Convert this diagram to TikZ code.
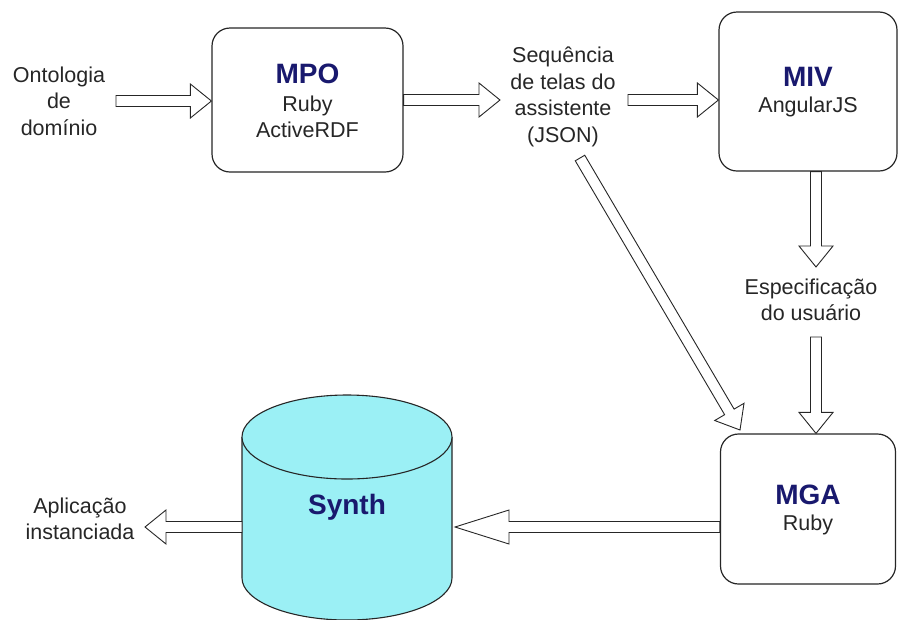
\documentclass[tikz,border=0pt]{standalone}
\usepackage{fontspec}
\setmainfont{Liberation Sans}
\usetikzlibrary{calc}
\definecolor{navy}{RGB}{25,25,110}
\definecolor{cyl}{RGB}{155,240,245}
\newcommand\hd{\fontsize{28}{31}\selectfont\bfseries\color{navy}}
\newcommand\blockarrow[3][21pt]{%
  \coordinate (ba-s) at (#2);
  \coordinate (ba-e) at (#3);
  \coordinate (ba-h) at ($(ba-e)!#1!(ba-s)$);
  \draw[arrowline] ($(ba-s)!5.5pt!90:(ba-e)$) -- ($(ba-h)!5.5pt!90:(ba-e)$) -- ($(ba-h)!17pt!90:(ba-e)$) -- (ba-e) -- ($(ba-h)!17pt!-90:(ba-e)$) -- ($(ba-h)!5.5pt!-90:(ba-e)$) -- ($(ba-s)!5.5pt!-90:(ba-e)$) -- cycle;
}
\tikzset{
  arrowline/.style={draw=black!85, fill=white, line width=0.9pt, line join=miter},
  module/.style={draw=black!85, line width=1.2pt, rounded corners=18pt, fill=white},
  txt/.style={font=\fontsize{21.5}{26.5}\selectfont, align=center, inner sep=0pt, text=black!85},
}
\begin{document}
\begin{tikzpicture}[x=1pt,y=-1pt]
\useasboundingbox (0,0) rectangle (904,619);
% boxes
\node[module, minimum width=191pt, minimum height=144pt] (mpo) at (307.5,100) {};
\node[module, minimum width=178pt, minimum height=159pt] (miv) at (808,91.5) {};
\node[module, minimum width=175pt, minimum height=150pt] (mga) at (808,509) {};
% box texts
\node[txt] (mpot) at (307.5,101) {{\hd MPO}\\[1pt]Ruby\\ActiveRDF};
\node[txt] (mivt) at (808,92) {{\hd MIV}\\AngularJS};
\node[txt] (mgat) at (808,510) {{\hd MGA}\\Ruby};
% free texts
\node[txt] (ont) at (59,101) {Ontologia\\de\\domínio};
\node[txt] (seq) at (563,97) {Sequência\\de telas do\\assistente\\(JSON)};
\node[txt] (spec) at (811,300) {Especificação\\do usuário};
\node[txt] (app) at (80,519) {Aplicação\\instanciada};
% cylinder
\fill[cyl] (242,437) -- (242,578) .. controls (242,601) and (289,620) .. (347,620) .. controls (405,620) and (452,601) .. (452,578) -- (452,437) -- cycle;
\draw[line width=1.1pt, black!85] (242,437) -- (242,578) .. controls (242,601) and (289,620) .. (347,620) .. controls (405,620) and (452,601) .. (452,578) -- (452,437);
\draw[line width=1.1pt, draw=black!85, fill=cyl] (347,437) ellipse [x radius=105, y radius=42];
\node[font=\hd, inner sep=0pt] (synth) at (347,507) {Synth};
\coordinate (synr) at (455,527);
\coordinate (synl) at (242,527);
% connector free ends
\coordinate (a1) at (116,101);
\coordinate (a2) at (500,100);
\coordinate (a3) at (628,100);
\coordinate (a4) at (816,267);
\coordinate (a5) at (816,337);
\coordinate (d1) at (580,158);
\coordinate (d2) at (740,430);
\coordinate (a7) at (145,527);
% arrows
\blockarrow{a1}{mpo.west |- a1}
\blockarrow{mpo.east}{a2}
\blockarrow{a3}{miv.west |- a3}
\blockarrow{a4 |- miv.south}{a4}
\blockarrow{a5}{a5 |- mga.north}
\blockarrow{d1}{d2}
\blockarrow[54pt]{mga.west |- synr}{synr}
\blockarrow{synl}{a7}
\end{tikzpicture}
\end{document}
